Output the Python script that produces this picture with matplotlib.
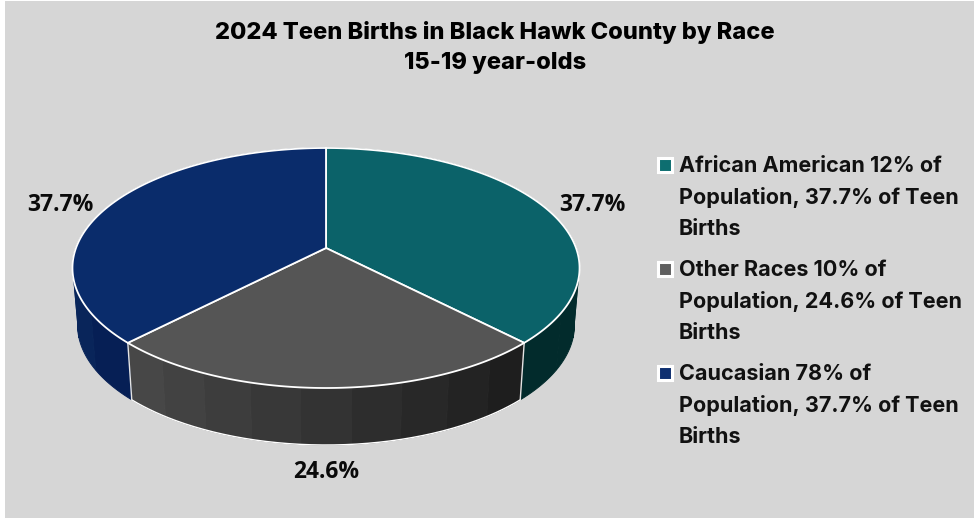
import numpy as np
import matplotlib
matplotlib.use('Agg')
import matplotlib.pyplot as plt
from matplotlib.patches import Rectangle
from matplotlib.colors import to_rgb

# ______ data ______
labels = ['African American 12% of\nPopulation, 37.7% of Teen\nBirths',
          'Other Races 10% of\nPopulation, 24.6% of Teen\nBirths',
          'Caucasian 78% of\nPopulation, 37.7% of Teen\nBirths']
shares = [37.7, 24.6, 37.7]
share_text = ['37.7%', '24.6%', '37.7%']

# ______ style ______
top_colors = ['#0B6269', '#555555', '#0A2C6B']
wall_from = ['#022B2C', '#1E1E1E', '#061F55']  # start of the wedge going clockwise
wall_to = ['#022B2C', '#474747', '#0B2A5E']
wall_gamma = [1, 1, 0.3]
key_colors = ['#0D6E70', '#606060', '#0E2F70']
bg = '#D6D6D6'
font = 'Inter'

cx, cy = 326, 248
A, B, k = 250, 116.67, 1 / 6
depth = 57
shrink = 0.98


def project(theta):
    # clockwise from 12 o'clock, tilted disc seen in perspective
    u, v = np.sin(theta), np.cos(theta)
    w = 1 + k * v
    return cx + A * u / w, cy - B * v / w


def lower(x, y):
    return cx + (x - cx) * shrink, y + depth


def mix(c1, c2, t):
    c1, c2 = np.array(to_rgb(c1)), np.array(to_rgb(c2))
    return tuple(c1 + (c2 - c1) * t)


fig = plt.figure(figsize=(9.74, 5.18), dpi=100, facecolor='white')
ax = fig.add_axes([0, 0, 1, 1])
ax.set_xlim(0, 974)
ax.set_ylim(518, 0)
ax.axis('off')
ax.add_patch(Rectangle((5, 1), 969, 517, facecolor=bg, edgecolor='none', zorder=0))

edges = np.radians(np.concatenate([[0], np.cumsum(shares)]) / sum(shares) * 360)

# walls first, top faces go over the hidden back part
for i in range(len(shares)):
    t0, t1 = edges[i], edges[i + 1]
    n_facets = 9
    cuts = np.linspace(t0, t1, n_facets + 1)
    for j in range(n_facets):
        th = np.linspace(cuts[j], cuts[j + 1], 20)
        x, y = project(th)
        xl, yl = lower(x, y)
        c = mix(wall_from[i], wall_to[i], (j / (n_facets - 1)) ** wall_gamma[i])
        ax.fill(np.r_[x, xl[::-1]], np.r_[y, yl[::-1]], color=c, lw=0.7, zorder=2)

# white trim only on the front wedge
th = np.linspace(edges[1], edges[2], 200)
x, y = project(th)
xl, yl = lower(x, y)
ax.plot(xl, yl, color='white', lw=1.0, zorder=3)
for e in [edges[1], edges[2]]:
    xe, ye = project(np.array([e]))
    xel, yel = lower(xe, ye)
    ax.plot([xe[0], xel[0]], [ye[0], yel[0]], color='#E4E4E4', lw=1.0, zorder=3)

for i in range(len(shares)):
    th = np.linspace(edges[i], edges[i + 1], 200)
    x, y = project(th)
    ax.fill(np.r_[cx, x], np.r_[cy, y], facecolor=top_colors[i], edgecolor='white',
            lw=1.3, joinstyle='miter', zorder=4)

# ______ text ______
ax.text(495, 33, '2024 Teen Births in Black Hawk County by Race', ha='center', va='center',
        fontsize=17, fontweight=800, family=font, color='black')
ax.text(495, 63, '15-19 year-olds', ha='center', va='center',
        fontsize=17, fontweight=800, family=font, color='black')

label_pos = [(592, 205), (326, 472), (60, 205)]
for txt, (lx, ly) in zip(share_text, label_pos):
    ax.text(lx, ly, txt, ha='center', va='center', fontsize=16.5, fontweight='bold',
            family='Open Sans', color='#0A0A0A')

# legend, key square sits on the first line of each entry
for i, label in enumerate(labels):
    y0 = 165 + 104 * i
    ax.add_patch(Rectangle((658, y0 - 7), 14, 14, facecolor=key_colors[i],
                           edgecolor='white', lw=2.2, zorder=5))
    # one text per line, multiline text gives an uneven pitch here
    for n, line in enumerate(label.split('\n')):
        ax.text(679, y0 + 7.5 + 31.2 * n, line, ha='left', va='baseline', fontsize=15.55,
                fontweight='bold', family=font, color='#111111')

plt.savefig('out.png', dpi=100, facecolor=fig.get_facecolor())
